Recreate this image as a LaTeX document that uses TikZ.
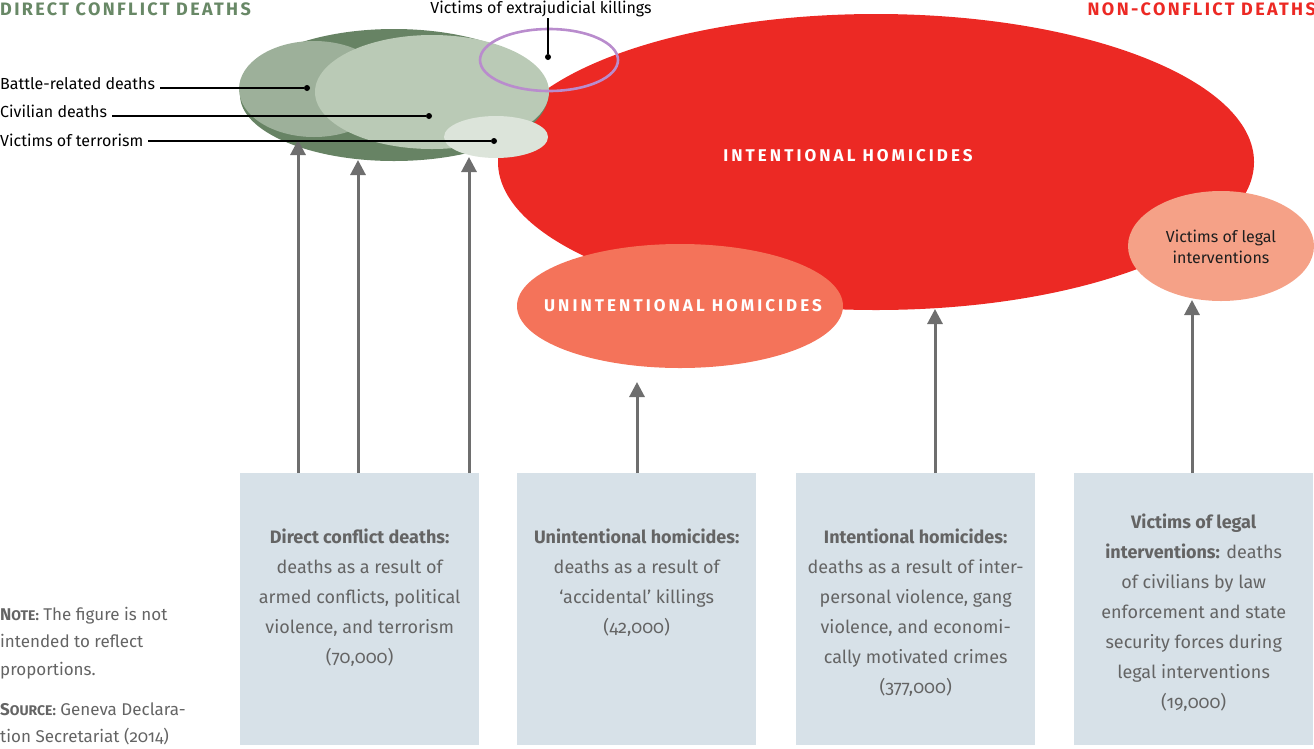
\documentclass[tikz,border=0pt]{standalone}
\usepackage{fontspec}
\setmainfont{Fira Sans}[Numbers=OldStyle]
\newfontfamily\spacedfont{Fira Sans}[LetterSpace=13]
\newfontfamily\widefont{Fira Sans}[LetterSpace=18]
\usetikzlibrary{shapes.geometric,arrows.meta}
\definecolor{dkgreen}{RGB}{103,131,100}
\definecolor{battle}{RGB}{157,176,154}
\definecolor{civil}{RGB}{186,202,182}
\definecolor{terror}{RGB}{220,228,218}
\definecolor{titlegreen}{RGB}{104,136,102}
\definecolor{hred}{RGB}{236,41,36}
\definecolor{unint}{RGB}{244,115,90}
\definecolor{legal}{RGB}{245,161,135}
\definecolor{boxfill}{RGB}{215,225,232}
\definecolor{arrgrey}{RGB}{110,110,110}
\definecolor{txtgrey}{RGB}{100,100,100}
\definecolor{purp}{RGB}{185,140,205}
\begin{document}
\begin{tikzpicture}[x=1pt,y=-1pt,
  blob/.style={ellipse, inner sep=0pt, draw=none},
  infobox/.style={fill=boxfill, minimum width=239pt, minimum height=272pt, inner sep=0pt, anchor=north west},
  boxtext/.style={anchor=north, align=center, text=txtgrey, font=\fontsize{18}{30}\selectfont, inner sep=0pt},
  arr/.style={draw=arrgrey, line width=3pt, -{Triangle[length=15pt,width=15pt]}},
  lbl/.style={anchor=base west, inner sep=0pt, font=\fontsize{16}{18}\selectfont},
  dot/.style={circle, fill=black, inner sep=0pt, minimum size=6pt},
  leader/.style={draw=black, line width=1.1pt},
  headline/.style={inner sep=0pt, font=\fontsize{18}{20}\spacedfont\bfseries},
  blobtext/.style={inner sep=0pt, text=white, font=\fontsize{17}{20}\widefont\bfseries}
]
\useasboundingbox (0,0) rectangle (1314,748);

% ellipses
\node[blob, fill=hred, minimum width=756pt, minimum height=296pt] (red) at (876,162) {};
\node[blob, fill=unint, minimum width=326pt, minimum height=124pt] (unint) at (680,306) {};
\node[blob, fill=legal, minimum width=186pt, minimum height=110pt] (legal) at (1221,246) {};
\node[blob, fill=dkgreen, minimum width=308pt, minimum height=132pt] (dcd) at (394,95) {};
\node[blob, fill=battle, minimum width=150pt, minimum height=96pt] (battle) at (314,89) {};
\node[blob, fill=civil, minimum width=234pt, minimum height=114pt] (civil) at (432,92) {};
\node[blob, fill=terror, minimum width=104pt, minimum height=42pt] (terror) at (496,137) {};
\node[ellipse, draw=purp, line width=2.6pt, inner sep=0pt, minimum width=138pt, minimum height=62pt] (extra) at (549,60) {};

% ellipse texts
\node[blobtext] (tint) at (848,156) {INTENTIONAL HOMICIDES};
\node[blobtext] (tunint) at (683,306) {UNINTENTIONAL HOMICIDES};
\node[inner sep=0pt, align=center, text={rgb,255:red,30;green,30;blue,30}, font=\fontsize{16}{21}\selectfont] (tlegal) at (1221,247) {Victims of legal\\interventions};

% headlines
\node[headline, anchor=base west, text=titlegreen] (h1) at (0,15) {DIRECT CONFLICT DEATHS};
\node[headline, anchor=base east, text=hred] (h2) at (1316,15) {NON-CONFLICT DEATHS};

% boxes
\node[infobox] (b1) at (240,473) {};
\node[infobox] (b2) at (517,473) {};
\node[infobox] (b3) at (796,473) {};
\node[infobox] (b4) at (1074,473) {};

\node[boxtext] (bt1) at (b1.north |- 0,529) {\textbf{Direct conflict deaths:}\\deaths as a result of\\armed conflicts, political\\violence, and terrorism\\(70,000)};
\node[boxtext] (bt2) at (b2.north |- 0,529) {\textbf{Unintentional homicides:}\\deaths as a result of\\‘accidental’ killings\\(42,000)};
\node[boxtext] (bt3) at (b3.north |- 0,529) {\textbf{Intentional homicides:}\\deaths as a result of inter-\\personal violence, gang\\violence, and economi-\\cally motivated crimes\\(377,000)};
\node[boxtext] (bt4) at (b4.north |- 0,514) {\textbf{Victims of legal}\\\textbf{interventions:} deaths\\of civilians by law\\enforcement and state\\security forces during\\legal interventions\\(19,000)};

% arrows
\coordinate (t1) at (298,140);
\coordinate (t2) at (358,160);
\coordinate (t3) at (469,157);
\coordinate (t4) at (637,382);
\coordinate (t5) at (935,309);
\coordinate (t6) at (1192,300);
\draw[arr] (b1.north -| t1) -- (t1);
\draw[arr] (b1.north -| t2) -- (t2);
\draw[arr] (b1.north -| t3) -- (t3);
\draw[arr] (b2.north -| t4) -- (t4);
\draw[arr] (b3.north -| t5) -- (t5);
\draw[arr] (b4.north -| t6) -- (t6);

% labels with leaders
\node[lbl] (lb) at (0,89) {Battle-related deaths};
\node[lbl] (lc) at (0,117) {Civilian deaths};
\node[lbl] (lt) at (0,146) {Victims of terrorism};
\node[lbl, anchor=base] (le) at (541,13) {Victims of extrajudicial killings};
\node[dot] (db) at (307,88) {};
\node[dot] (dc) at (429,116) {};
\node[dot] (dt) at (494,141) {};
\node[dot] (de) at (548,57) {};
\draw[leader] ([xshift=5pt]lb.east |- db) -- (db);
\draw[leader] ([xshift=5pt]lc.east |- dc) -- (dc);
\draw[leader] ([xshift=5pt]lt.east |- dt) -- (dt);
\draw[leader] (de |- 0,18) -- (de);

% note and source
\node[anchor=north west, align=left, inner sep=0pt, text=txtgrey, font=\fontsize{17}{27.5}\selectfont] (note) at (0,607) {\textbf{N{\fontsize{14}{27}\selectfont OTE:}} The figure is not\\intended to reflect\\proportions.};
\node[anchor=north west, align=left, inner sep=0pt, text=txtgrey, font=\fontsize{17}{27}\selectfont] (source) at (0,703) {\textbf{S{\fontsize{14}{27}\selectfont OURCE:}} Geneva Declara-\\tion Secretariat (2014)};
\end{tikzpicture}
\end{document}
